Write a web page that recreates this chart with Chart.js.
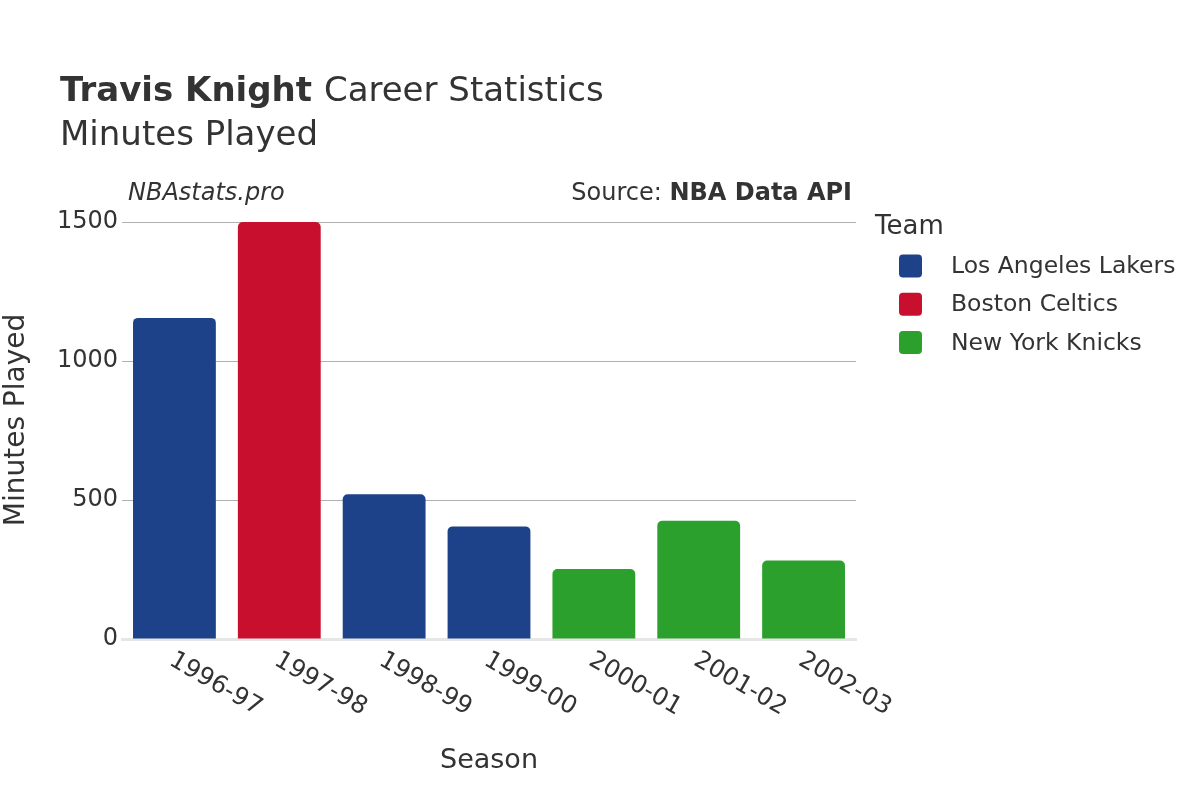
<!DOCTYPE html>
<html>
<head>
<meta charset="utf-8">
<script src="https://cdn.jsdelivr.net/npm/chart.js@4"></script>
<style>
  html, body { margin: 0; padding: 0; background: #fff; }
  #wrap { width: 1200px; height: 800px; }
</style>
</head>
<body>
<div id="wrap"><canvas id="myChart" width="1200" height="800"></canvas></div>
<script>
// data
const seasons = ["1996-97", "1997-98", "1998-99", "1999-00", "2000-01", "2001-02", "2002-03"];
const lakers  = [1155, null, 521, 405, null, null, null];
const celtics = [null, 1500, null, null, null, null, null];
const knicks  = [null, null, null, null, 252, 425, 282];
const teams = ["Los Angeles Lakers", "Boston Celtics", "New York Knicks"];
const teamColors = ["#1d428a", "#c8102e", "#2ca02c"];
const yTicks = [0, 500, 1000, 1500];

const FONT = '"DejaVu Sans", sans-serif';
const TEXT = '#333333';

// title, source line, axis titles, rotated season labels and legend
const decor = {
  id: 'decor',
  afterDraw(chart) {
    const ctx = chart.ctx;
    ctx.save();
    ctx.fillStyle = TEXT;
    ctx.textBaseline = 'alphabetic';
    ctx.textAlign = 'left';

    ctx.font = 'bold 34px ' + FONT;
    const bold = 'Travis Knight';
    ctx.fillText(bold, 60, 101);
    const w = ctx.measureText(bold + ' ').width;
    ctx.font = '34px ' + FONT;
    ctx.fillText('Career Statistics', 60 + w, 101);
    ctx.fillText('Minutes Played', 60, 145);

    ctx.font = 'italic 24px ' + FONT;
    ctx.fillText('NBAstats.pro', 128, 200);

    ctx.textAlign = 'right';
    ctx.font = 'bold 24px ' + FONT;
    const src = 'NBA Data API';
    ctx.fillText(src, 852, 200);
    const sw = ctx.measureText(src).width;
    ctx.font = '24px ' + FONT;
    ctx.fillText('Source: ', 852 - sw, 200);

    // y axis title
    ctx.save();
    ctx.translate(17, 420);
    ctx.rotate(-Math.PI / 2);
    ctx.textAlign = 'center';
    ctx.textBaseline = 'middle';
    ctx.font = '28px ' + FONT;
    ctx.fillText('Minutes Played', 0, 0);
    ctx.restore();

    // x tick labels, rotated 30 degrees
    const xs = chart.scales.x;
    ctx.font = '24.5px ' + FONT;
    ctx.textAlign = 'left';
    ctx.textBaseline = 'top';
    seasons.forEach(function(s, i) {
      const x = xs.getPixelForValue(i);
      ctx.save();
      ctx.translate(x + 3, xs.top + 9);
      ctx.rotate(Math.PI / 6);
      ctx.fillText(s, 0, 0);
      ctx.restore();
    });

    // legend
    ctx.textBaseline = 'middle';
    ctx.font = '26px ' + FONT;
    ctx.fillText('Team', 875, 227);
    ctx.font = '23.5px ' + FONT;
    teams.forEach(function(t, i) {
      const cy = 266 + i * 38.2;
      ctx.fillStyle = teamColors[i];
      ctx.beginPath();
      ctx.roundRect(899, cy - 11.5, 23, 23, 4);
      ctx.fill();
      ctx.fillStyle = TEXT;
      ctx.fillText(t, 951, cy + 1);
    });
    ctx.restore();
  }
};

const ctx = document.getElementById('myChart');
const myChart = new Chart(ctx, {
  type: 'bar',
  data: {
    labels: seasons,
    datasets: [lakers, celtics, knicks].map(function(d, i) {
      return {
        label: teams[i],
        data: d,
        backgroundColor: teamColors[i],
        borderRadius: { topLeft: 5, topRight: 5 },
        borderSkipped: 'bottom',
        barPercentage: 0.79,
        categoryPercentage: 1.0
      };
    })
  },
  options: {
    responsive: false,
    animation: false,
    layout: { padding: { top: 222, right: 344, bottom: 0, left: 0 } },
    plugins: {
      legend: { display: false },
      title: { display: false },
      tooltip: { enabled: false }
    },
    scales: {
      x: {
        stacked: true,
        grid: { display: false },
        border: { display: true, color: '#e6e6e6', width: 3 },
        ticks: { display: false },
        title: {
          display: true,
          text: 'Season',
          color: TEXT,
          font: { family: FONT, size: 27 },
          padding: { top: 0, bottom: 23 }
        },
        afterFit: function(scale) { scale.height = 161; }
      },
      y: {
        stacked: true,
        min: 0,
        max: 1500,
        afterBuildTicks: function(scale) {
          scale.ticks = yTicks.map(function(v) { return { value: v }; });
        },
        grid: {
          drawTicks: false,
          color: function(c) { return c.tick && c.tick.value === 0 ? 'rgba(0,0,0,0)' : '#b0b0b0'; },
          lineWidth: 1
        },
        border: { display: false },
        ticks: {
          color: TEXT,
          padding: 4,
          font: { family: FONT, size: 24 },
          callback: function(v) { return String(v); }
        },
        title: { display: false },
        afterFit: function(scale) { scale.width = 122; }
      }
    }
  },
  plugins: [decor]
});
</script>
</body>
</html>
